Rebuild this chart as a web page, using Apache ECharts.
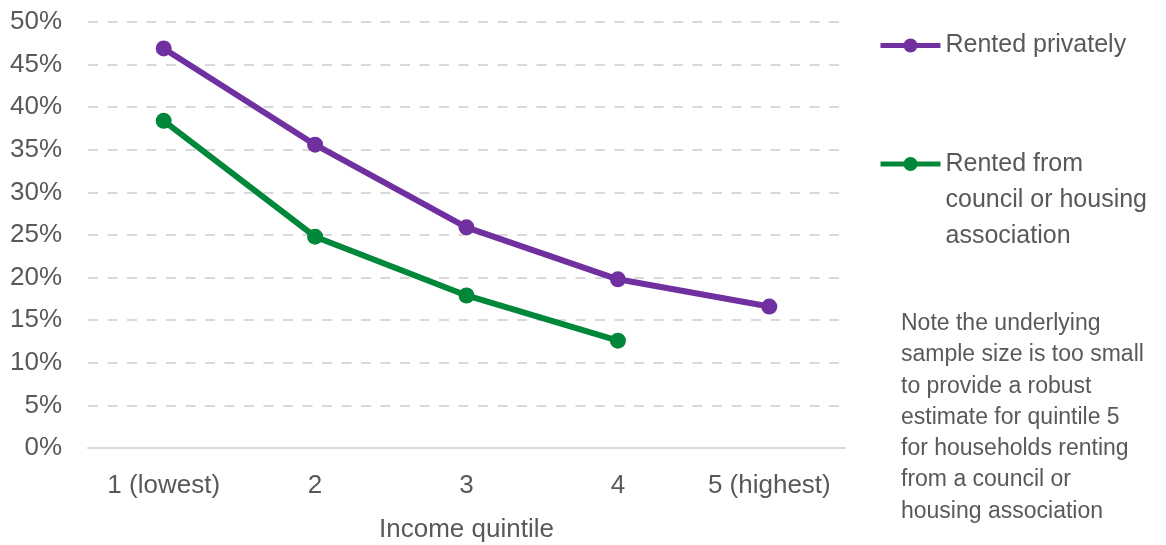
<!DOCTYPE html>
<html>
<head>
<meta charset="utf-8">
<script src="https://cdn.jsdelivr.net/npm/echarts@6/dist/echarts.min.js"></script>
<style>
html,body{margin:0;padding:0;background:#fff;}
#chart{width:1166px;height:545px;}
</style>
</head>
<body>
<div id="chart"></div>
<script>
var categories = ['1 (lowest)', '2', '3', '4', '5 (highest)'];
var rentedPrivately = [46.9, 35.6, 25.9, 19.8, 16.6];
var rentedSocial = [38.4, 24.8, 17.9, 12.6, null];
var seriesNames = ['Rented privately', 'Rented from\ncouncil or housing\nassociation'];
var noteText = 'Note the underlying\nsample size is too small\nto provide a robust\nestimate for quintile 5\nfor households renting\nfrom a council or\nhousing association';
var xAxisName = 'Income quintile';

var FONT = '"Liberation Sans", Arial, sans-serif';
var GREY = '#595959';
var PURPLE = '#7030A0';
var GREEN = '#00873A';

var chart = echarts.init(document.getElementById('chart'), null, {renderer: 'canvas'});
chart.setOption({
  animation: false,
  backgroundColor: '#ffffff',
  textStyle: {fontFamily: FONT},
  grid: {left: 88, right: 321, top: 22, bottom: 97, containLabel: false, outerBoundsMode: 'none'},
  legend: [
    {
      data: [seriesNames[0]],
      orient: 'vertical',
      left: 878, top: 33,
      padding: 0,
      itemWidth: 60, itemHeight: 17.5, itemGap: 5,
      lineStyle: {width: 5},
      textStyle: {fontFamily: FONT, fontSize: 25, color: GREY}
    },
    {
      data: [seriesNames[1]],
      formatter: function (name) { return '\n\n' + name; },
      orient: 'vertical',
      left: 878, top: 74,
      padding: 0,
      itemWidth: 60, itemHeight: 17.5, itemGap: 5,
      lineStyle: {width: 5},
      textStyle: {fontFamily: FONT, fontSize: 25, color: GREY, lineHeight: 36}
    }
  ],
  graphic: [{
    type: 'text',
    left: 901, top: 308,
    style: {text: noteText, font: '23px ' + FONT, fill: GREY, lineHeight: 31.3}
  }],
  xAxis: {
    type: 'category',
    data: categories,
    boundaryGap: true,
    name: xAxisName,
    nameLocation: 'middle',
    nameGap: 69,
    nameTextStyle: {fontFamily: FONT, fontSize: 26, color: GREY},
    axisLine: {show: true, lineStyle: {color: '#D9D9D9', width: 2}},
    axisTick: {show: false},
    axisLabel: {interval: 0, fontFamily: FONT, fontSize: 26, color: GREY, margin: 25}
  },
  yAxis: {
    type: 'value',
    min: 0, max: 50, interval: 5,
    axisLine: {show: false},
    axisTick: {show: false},
    axisLabel: {fontFamily: FONT, fontSize: 26, color: GREY, margin: 26, formatter: '{value}%'},
    splitLine: {show: true, lineStyle: {color: '#D9D9D9', width: 2, type: [10, 9.5]}}
  },
  series: [
    {
      name: seriesNames[0], type: 'line', data: rentedPrivately,
      symbol: 'circle', symbolSize: 16,
      lineStyle: {color: PURPLE, width: 6},
      itemStyle: {color: PURPLE}
    },
    {
      name: seriesNames[1], type: 'line', data: rentedSocial,
      symbol: 'circle', symbolSize: 16,
      lineStyle: {color: GREEN, width: 6},
      itemStyle: {color: GREEN}
    }
  ]
});
</script>
</body>
</html>
